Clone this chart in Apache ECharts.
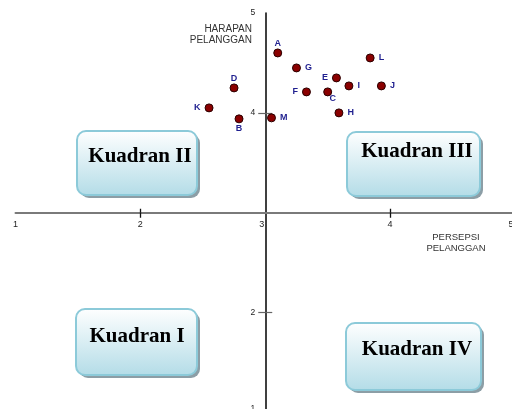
<!DOCTYPE html>
<html>
<head>
<meta charset="utf-8">
<script src="https://cdn.jsdelivr.net/npm/echarts@6/dist/echarts.min.js"></script>
<style>html,body{margin:0;padding:0;background:#fff}#c{width:512px;height:409px}</style>
</head>
<body>
<div id="c"></div>
<script>
// ---- data ----
var names = ['A','G','L','D','E','I','J','F','C','K','H','B','M'];
var persepsi = [3.10, 3.25, 3.84, 2.75, 3.57, 3.67, 3.93, 3.33, 3.50, 2.55, 3.59, 2.79, 3.05];
var harapan  = [4.60, 4.45, 4.55, 4.25, 4.35, 4.27, 4.27, 4.21, 4.21, 4.05, 4.00, 3.94, 3.95];
var xTicks = [1, 2, 3, 4, 5];
var yTicks = [1, 2, 4, 5];
var center = 3;
var quadrants = ['Kuadran II', 'Kuadran III', 'Kuadran I', 'Kuadran IV'];

// ---- style / layout ----
var G = {left:15.5, top:13, width:499.5, height:399.5};
var labelPos = {A:'top',G:'right',L:'right',D:'top',E:'left',I:'right',J:'right',F:'left',C:'bottom',K:'left',H:'right',B:'bottom',M:'right'};
var labelOff = {C:[5,-2.5]};
var chart = echarts.init(document.getElementById('c'), null, {renderer:'canvas'});

var seriesData = names.map(function(n, i){
  var p = labelPos[n];
  return {
    name: n,
    value: [persepsi[i], harapan[i]],
    label: {position: p, offset: labelOff[n] || [0,0], distance: (p === 'top' || p === 'bottom') ? 0.5 : 4}
  };
});

function fmtX(v){
  var t = Math.round(v);
  if (t === center) return '{l|' + t + '}';
  if (t === 5) return '{r|' + t + '}';
  return String(t);
}
function fmtY(v){
  var t = Math.round(v);
  if (t === center) return '';
  if (t === 1) return '{b|' + t + '}';
  return String(t);
}

var boxes = [
  {x:77, y:131, w:120, h:64, tx:140, ty:157},
  {x:347, y:132, w:133, h:64, tx:417, ty:152},
  {x:76, y:309, w:121, h:66, tx:137, ty:337},
  {x:346, y:323, w:135, h:67, tx:417, ty:350}
];
var graphics = [];
boxes.forEach(function(b, i){
  graphics.push({
    type:'rect', z:1,
    shape:{x:b.x + 3, y:b.y + 3, width:b.w, height:b.h, r:9},
    style:{fill:'#8c9ea6'}
  });
  graphics.push({
    type:'rect', z:1,
    shape:{x:b.x, y:b.y, width:b.w, height:b.h, r:9},
    style:{
      fill: new echarts.graphic.LinearGradient(0,0,0,1,[{offset:0,color:'#ffffff'},{offset:1,color:'#b3dce7'}]),
      stroke:'#8ccad9', lineWidth:2
    }
  });
  graphics.push({
    type:'text', z:2, x:b.tx, y:b.ty,
    style:{text:quadrants[i], fill:'#000', font:'bold 21px "Liberation Serif", "Times New Roman", serif', align:'center', verticalAlign:'middle'}
  });
});
graphics.push({type:'text', z:3, x:252, y:35, style:{text:'HARAPAN\nPELANGGAN', fill:'#333', font:'10px "Liberation Sans", Arial, sans-serif', align:'right', verticalAlign:'middle', lineHeight:11}});
graphics.push({type:'text', z:3, x:456, y:243, style:{text:'PERSEPSI\nPELANGGAN', fill:'#333', font:'9.5px "Liberation Sans", Arial, sans-serif', align:'center', verticalAlign:'middle', lineHeight:11.5}});

var xOff = -G.height * (center - 1) / 4;   // move x axis to y = 3
var yOff = -G.width * (center - 1) / 4;    // move y axis to x = 3
var lblFont = '"Liberation Sans", Arial, sans-serif';

chart.setOption({
  animation:false,
  backgroundColor:'#fff',
  grid:{left:G.left, top:G.top, width:G.width, height:G.height, containLabel:false, outerBoundsMode:'none'},
  graphic: graphics,
  xAxis:[{
    type:'value', min:1, max:5, position:'bottom', offset:xOff,
    axisLine:{onZero:false, lineStyle:{color:'#7a7a7a', width:2}},
    axisTick:{show:true, customValues:[2,4], length:5, lineStyle:{color:'#111', width:1.3}},
    axisLabel:{customValues:xTicks, formatter:fmtX, color:'#222', fontSize:9, fontFamily:lblFont, margin:7, showMinLabel:true, showMaxLabel:true,
      rich:{l:{padding:[0,7,0,0], fontSize:9, color:'#222', fontFamily:lblFont},
            r:{padding:[0,8,0,0], fontSize:9, color:'#222', fontFamily:lblFont}}},
    splitLine:{show:false}
  },{
    type:'value', min:1, max:5, position:'top', offset:xOff,
    axisLine:{show:false, onZero:false},
    axisTick:{show:true, customValues:[2,4], length:4, lineStyle:{color:'#111', width:1.3}},
    axisLabel:{show:false},
    splitLine:{show:false}
  }],
  yAxis:[{
    type:'value', min:1, max:5, position:'left', offset:yOff,
    axisLine:{onZero:false, lineStyle:{color:'#000', width:1.5}},
    axisTick:{show:true, customValues:[2,4], length:7, lineStyle:{color:'#666', width:1.2}},
    axisLabel:{customValues:yTicks, formatter:fmtY, color:'#222', fontSize:8.5, fontFamily:lblFont, margin:10, showMinLabel:true, showMaxLabel:true,
      rich:{b:{padding:[0,0,8,0], fontSize:8.5, color:'#222', fontFamily:lblFont}}},
    splitLine:{show:false}
  },{
    type:'value', min:1, max:5, position:'right', offset:yOff,
    axisLine:{show:false, onZero:false},
    axisTick:{show:true, customValues:[2,4], length:7, lineStyle:{color:'#666', width:1.2}},
    axisLabel:{show:false},
    splitLine:{show:false}
  }],
  series:[{
    type:'scatter', xAxisIndex:0, yAxisIndex:0, z:5,
    symbolSize:8,
    itemStyle:{color:'#8a0000', borderColor:'#2a0000', borderWidth:1, opacity:1},
    label:{show:true, formatter:'{b}', color:'#1f1f8f', fontWeight:'bold', fontSize:9, fontFamily:lblFont},
    emphasis:{disabled:true},
    data: seriesData
  }]
});
</script>
</body>
</html>
